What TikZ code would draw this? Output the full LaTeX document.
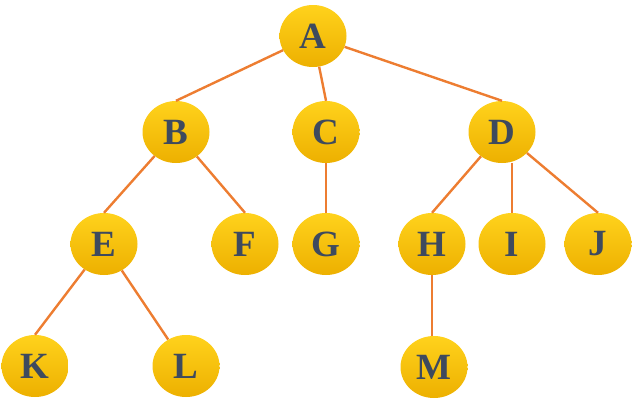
\documentclass[tikz,border=0pt]{standalone}
\usepackage{fontspec}
\setmainfont{Liberation Serif}
\usepackage{xcolor}
\usepackage{tikz}
\usetikzlibrary{shapes.geometric}
\definecolor{nodetop}{HTML}{FFD21C}
\definecolor{nodebot}{HTML}{EDB000}
\definecolor{nodetxt}{HTML}{3E4A5E}
\definecolor{edgeorange}{HTML}{ED7D31}
\tikzset{
  treenode/.style={ellipse,minimum width=67pt,minimum height=62pt,inner sep=0pt,
    top color=nodetop,bottom color=nodebot,draw=none,
    text=nodetxt,font=\fontsize{37}{37}\selectfont\bfseries},
  treeedge/.style={draw=edgeorange,line width=2.4pt},
}

\begin{document}
\begin{tikzpicture}[x=1pt,y=-1pt]
  \useasboundingbox (0,0) rectangle (632,413);
  \node[treenode] (nA) at (313,36) {A};
  \node[treenode] (nB) at (176,132) {B};
  \node[treenode] (nC) at (326,132) {C};
  \node[treenode] (nD) at (502,132) {D};
  \node[treenode] (nE) at (104,244) {E};
  \node[treenode] (nF) at (245,244) {F};
  \node[treenode] (nG) at (326,244) {G};
  \node[treenode] (nH) at (432,244) {H};
  \node[treenode] (nI) at (512,244) {I};
  \node[treenode] (nJ) at (598,244) {J};
  \node[treenode] (nK) at (35,366) {K};
  \node[treenode] (nL) at (186,366) {L};
  \node[treenode] (nM) at (434,367) {M};
  \draw[treeedge] (nA) -- (nB.north);
  \draw[treeedge] (nA) -- (nC.north);
  \draw[treeedge] (nA) -- (nD.north);
  \draw[treeedge] (nB) -- (nE.north);
  \draw[treeedge] (nB) -- (nF.north);
  \draw[treeedge] (nC) -- (nG);
  \draw[treeedge] (nD) -- (nH.north);
  \draw[treeedge] (nD.south -| nI) -- (nI);
  \draw[treeedge] (nD) -- (nJ.north);
  \draw[treeedge] (nE) -- (nK.north);
  \draw[treeedge] (nE) -- (nL);
  \draw[treeedge] (nH) -- (nH |- nM.north);
\end{tikzpicture}
\end{document}
